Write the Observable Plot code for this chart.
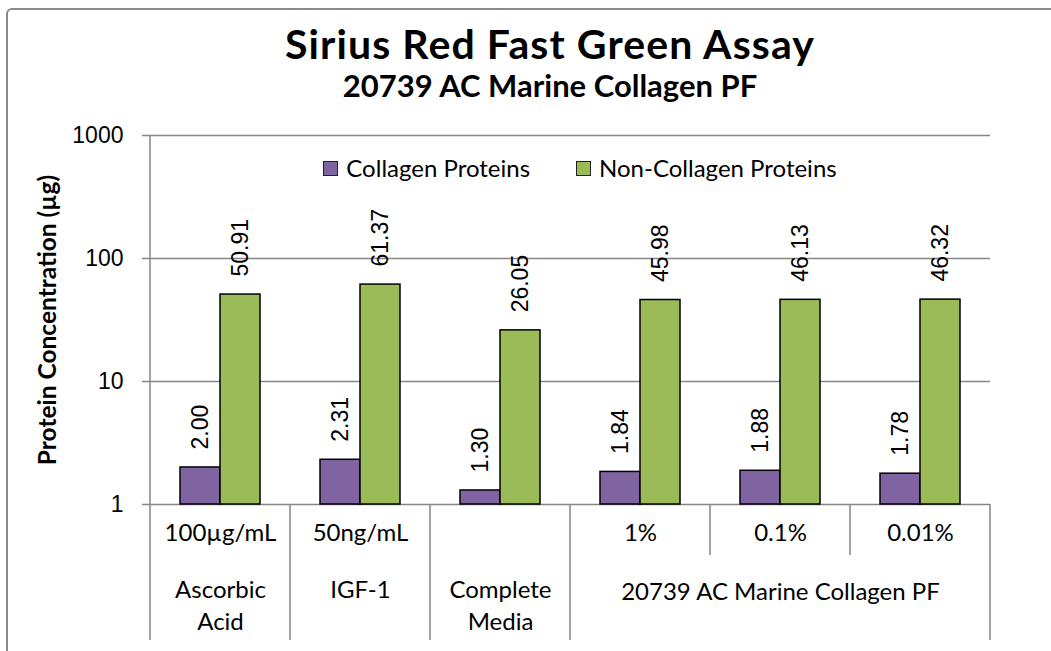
<!DOCTYPE html>
<html>
<head>
<meta charset="utf-8">
<script src="https://cdn.jsdelivr.net/npm/d3@7"></script>
<script src="https://cdn.jsdelivr.net/npm/@observablehq/plot@0.6"></script>
<style>
  html, body { margin: 0; padding: 0; background: #fff; }
  #wrap { position: relative; width: 1051px; height: 651px; overflow: hidden; background: #fff; font-family: Lato, "Open Sans", sans-serif; }
  #frame { position: absolute; left: 6px; top: 8px; width: 1200px; height: 800px; border: 2px solid #8a8a8a; border-radius: 6px; }
  .ttl { position: absolute; left: 0; width: 1100px; text-align: center; font-weight: bold; line-height: 1; color: #000; white-space: nowrap; }
  #title { top: 23px; font-size: 41px; letter-spacing: 1.1px; }
  #subtitle { top: 70px; font-size: 31px; }
  #chart { position: absolute; left: 0; top: 0; }
  #legend { position: absolute; left: 0; top: 156px; width: 1160px; display: flex; justify-content: center; gap: 46px; font-size: 24px; line-height: 1; color: #000; }
  .item { display: flex; align-items: center; gap: 8px; }
  .sw { width: 15px; height: 15px; border: 1px solid #222; box-sizing: border-box; }
</style>
</head>
<body>
<div id="wrap">
  <div id="frame"></div>
  <div id="title" class="ttl"></div>
  <div id="subtitle" class="ttl"></div>
  <div id="chart"></div>
  <div id="legend"></div>
</div>
<script>
// ---- data ----
const titleText = "Sirius Red Fast Green Assay";
const subtitleText = "20739 AC Marine Collagen PF";
const yLabel = "Protein Concentration (µg)";
const groups = ["Ascorbic Acid", "IGF-1", "Complete Media", "20739 AC Marine Collagen PF", "20739 AC Marine Collagen PF", "20739 AC Marine Collagen PF"];
const doses = ["100µg/mL", "50ng/mL", "", "1%", "0.1%", "0.01%"];
const seriesNames = ["Collagen Proteins", "Non-Collagen Proteins"];
const seriesColors = ["#8064A2", "#9BBB59"];
const collagen = [2.00, 2.31, 1.30, 1.84, 1.88, 1.78];
const nonCollagen = [50.91, 61.37, 26.05, 45.98, 46.13, 46.32];
const yTicks = [1, 10, 100, 1000];

// ---- derived tables ----
const ids = groups.map((g, i) => `${g} | ${doses[i]}`);
const conditions = ids.map((id, i) => ({id, group: groups[i], dose: doses[i]}));
const rows = [];
ids.forEach((id, i) => {
  rows.push({id, series: seriesNames[0], value: collagen[i]});
  rows.push({id, series: seriesNames[1], value: nonCollagen[i]});
});
const groupRows = [];
for (const g of [...new Set(groups)]) {
  const members = ids.filter((id, i) => groups[i] === g);
  groupRows.push({group: g, anchor: members[Math.floor(members.length / 2)], span: members.length});
}

document.getElementById("title").textContent = titleText;
document.getElementById("subtitle").textContent = subtitleText;

const fmt = d3.format(".2f");
const catFont = {fontFamily: "Lato", fontSize: 24, fill: "#000"};
const numFont = {fontFamily: "Liberation Sans", fontSize: 23, fill: "#000"};

const chart = Plot.plot({
  width: 1051,
  height: 651,
  marginTop: 135,
  marginBottom: 147,
  marginLeft: 150,
  marginRight: 61,
  style: {background: "transparent", overflow: "visible"},
  fx: {domain: ids, padding: 0, axis: null, label: null},
  x: {domain: seriesNames, paddingInner: 0, paddingOuter: 0.75, axis: null},
  y: {type: "log", domain: [1, 1000], axis: null},
  color: {domain: seriesNames, range: seriesColors},
  marks: [
    Plot.gridY(yTicks.slice(1), {stroke: "#868686", strokeOpacity: 1, strokeWidth: 1.5}),
    Plot.ruleY([1], {stroke: "#868686", strokeWidth: 1.5}),
    Plot.axisY(yTicks, {tickFormat: d => String(d), tickSize: 8, tickPadding: 19, stroke: "#868686", strokeWidth: 1.5, label: null, ...numFont}),
    Plot.barY(rows, {fx: "id", x: "series", y1: 1, y2: "value", fill: "series", stroke: "#000", strokeWidth: 1.5}),
    Plot.text(rows, {fx: "id", x: "series", y: "value", text: d => fmt(d.value), rotate: -90, textAnchor: "start", dy: -18, ...numFont}),
    Plot.text(conditions, {fx: "id", text: "dose", frameAnchor: "bottom", dy: 36, ...catFont}),
    Plot.text(groupRows.filter(d => d.span === 1), {fx: "anchor", text: "group", frameAnchor: "bottom", dy: 71, lineAnchor: "top", lineWidth: 5, lineHeight: 1.33, ...catFont}),
    Plot.text(groupRows.filter(d => d.span > 1), {fx: "anchor", text: "group", frameAnchor: "bottom", dy: 78, lineAnchor: "top", ...catFont}),
    Plot.text([yLabel], {fx: () => ids[0], text: d => d, frameAnchor: "left", textAnchor: "middle", rotate: -90, dx: -102, fontFamily: "Lato", fontSize: 24.5, fontWeight: "bold", fill: "#000"})
  ]
});

// axis line and category separators using Plot's own scales
const fxs = chart.scale("fx");
const ys = chart.scale("y");
const svg = d3.select(chart);
const sep = svg.append("g").attr("stroke", "#868686").attr("stroke-width", 1.5);
const x0 = fxs.apply(ids[0]);
sep.append("line").attr("x1", x0).attr("x2", x0).attr("y1", ys.apply(1000)).attr("y2", ys.apply(1));
for (let i = 0; i <= ids.length; i++) {
  const xp = i < ids.length ? fxs.apply(ids[i]) : fxs.apply(ids[ids.length - 1]) + fxs.bandwidth;
  const full = i === 0 || i === ids.length || groups[i] !== groups[i - 1];
  const yb = ys.apply(1);
  sep.append("line").attr("x1", xp).attr("x2", xp).attr("y1", yb).attr("y2", yb + (full ? 136 : 51));
}
document.getElementById("chart").appendChild(chart);

// legend
const legend = document.getElementById("legend");
seriesNames.forEach((name, i) => {
  const item = document.createElement("div");
  item.className = "item";
  const sw = document.createElement("span");
  sw.className = "sw";
  sw.style.background = seriesColors[i];
  const label = document.createElement("span");
  label.textContent = name;
  item.appendChild(sw);
  item.appendChild(label);
  legend.appendChild(item);
});
</script>
</body>
</html>
